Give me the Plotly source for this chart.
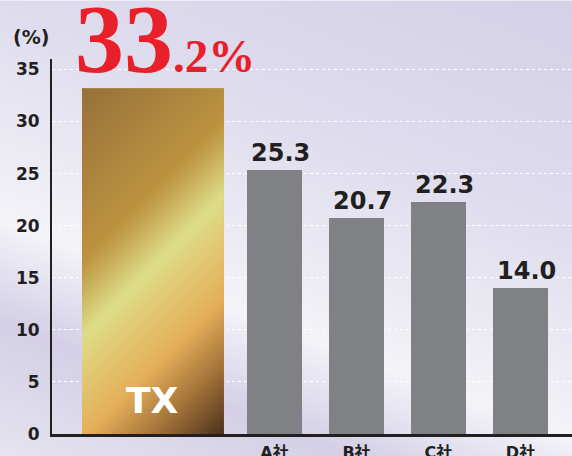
import base64
import plotly.graph_objects as go

# ---- data ----
companies = ["TX", "A社", "B社", "C社", "D社"]
shares = [33.2, 25.3, 20.7, 22.3, 14.0]
y_ticks = [0, 5, 10, 15, 20, 25, 30, 35]
unit_label = "(%)"

# ---- styles ----
bar_gray = "#808184"
ink = "#231f20"
red = "#e8202a"
offsets = [-1.348, -0.335, -0.335, -0.335, -0.335]
widths = [1.732, 0.671, 0.671, 0.671, 0.671]

xs = list(range(len(companies)))


def svg_uri(svg):
    return "data:image/svg+xml;base64," + base64.b64encode(svg.encode()).decode()


gold_svg = """<svg xmlns='http://www.w3.org/2000/svg' width='142' height='346' viewBox='0 0 142 346' preserveAspectRatio='none'>
<defs><linearGradient id='g' gradientUnits='userSpaceOnUse' x1='0' y1='0' x2='244' y2='244'>
<stop offset='0' stop-color='#97703a'/>
<stop offset='0.36' stop-color='#bd9340'/>
<stop offset='0.51' stop-color='#dedc88'/>
<stop offset='0.72' stop-color='#e4ae58'/>
<stop offset='0.87' stop-color='#9c6c36'/>
<stop offset='1' stop-color='#4a301c'/>
</linearGradient></defs>
<rect x='0' y='0' width='142' height='346' fill='url(#g)'/></svg>"""

bg_svg = """<svg xmlns='http://www.w3.org/2000/svg' width='572' height='456' viewBox='0 0 572 456' preserveAspectRatio='none'>
<defs><linearGradient id='b' gradientUnits='userSpaceOnUse' x1='572' y1='0' x2='345.5' y2='588.9'>
<stop offset='0' stop-color='#d4d0e8'/>
<stop offset='0.33' stop-color='#dedced'/>
<stop offset='0.5' stop-color='#e9e8f2'/>
<stop offset='0.65' stop-color='#f3f3f8'/>
<stop offset='0.8' stop-color='#d4cfe6'/>
<stop offset='1' stop-color='#e6e4ef'/>
</linearGradient></defs>
<rect x='0' y='0' width='572' height='456' fill='url(#b)'/></svg>"""

fig = go.Figure()

fig.add_trace(go.Bar(
    x=xs[1:], y=shares[1:], offset=offsets[1:], width=widths[1:],
    marker=dict(color=bar_gray, line=dict(width=0)), showlegend=False,
))
fig.add_trace(go.Bar(
    x=xs[:1], y=shares[:1], offset=offsets[:1], width=widths[:1],
    marker=dict(color="#c9a050", line=dict(width=0)), showlegend=False,
))

for xi, v in zip(xs[1:], shares[1:]):
    fig.add_annotation(
        text=f"{v:.1f}", x=xi, y=v, xref="x", yref="y", yanchor="bottom",
        xshift=6, yshift=1, showarrow=False,
        font=dict(family="DejaVu Sans", size=24, color=ink, weight="bold"),
    )

fig.add_layout_image(dict(
    source=svg_uri(gold_svg), xref="x", yref="y",
    x=xs[0] + offsets[0], y=shares[0], sizex=widths[0], sizey=shares[0],
    xanchor="left", yanchor="top", sizing="stretch", layer="above",
))
fig.add_layout_image(dict(
    source=svg_uri(bg_svg), xref="paper", yref="paper",
    x=-0.1, y=1.156, sizex=1.1, sizey=1.215,
    xanchor="left", yanchor="top", sizing="stretch", layer="below",
))

whole, dec = f"{shares[0]:.1f}".split(".")
fig.add_annotation(
    text=f"<span style='font-size:98px'>{whole}</span>.{dec}%",
    xref="paper", yref="paper", x=0.040, y=0.903, xanchor="left", yanchor="bottom",
    showarrow=False, font=dict(family="Liberation Serif", size=47, color=red, weight="bold"),
)
fig.add_annotation(
    text=companies[0], xref="x", yref="y", x=xs[0] + offsets[0] + widths[0] / 2, y=0,
    yanchor="bottom", yshift=11, showarrow=False,
    font=dict(family="DejaVu Sans", size=36, color="white", weight="bold"),
)
fig.add_annotation(
    text=unit_label, xref="paper", yref="paper", x=-0.079, y=1.094, xanchor="left",
    showarrow=False, font=dict(family="DejaVu Sans", size=19, color=ink, weight="bold"),
)

fig.update_layout(
    width=572, height=456,
    margin=dict(l=52, r=0, t=58.5, b=22),
    paper_bgcolor="#f4f4f8", plot_bgcolor="rgba(0,0,0,0)",
    bargap=0, showlegend=False,
    xaxis=dict(
        range=[-1.713, 4.628], tickvals=xs[1:], ticktext=companies[1:],
        showgrid=False, zeroline=False, showline=True, linecolor=ink, linewidth=2.5,
        ticks="", ticklabelstandoff=2, automargin=False,
        tickfont=dict(family="DejaVu Sans, Noto Sans CJK JP", size=16, color=ink, weight="bold"),
    ),
    yaxis=dict(
        range=[0, 36], tickvals=y_ticks, showgrid=True, gridcolor="white",
        griddash="dot", gridwidth=1, zeroline=False, showline=True,
        linecolor=ink, linewidth=2, ticks="", ticklabelstandoff=7, automargin=False,
        tickfont=dict(family="DejaVu Sans", size=17, color=ink, weight="bold"),
    ),
)

fig.write_html("out.html")
